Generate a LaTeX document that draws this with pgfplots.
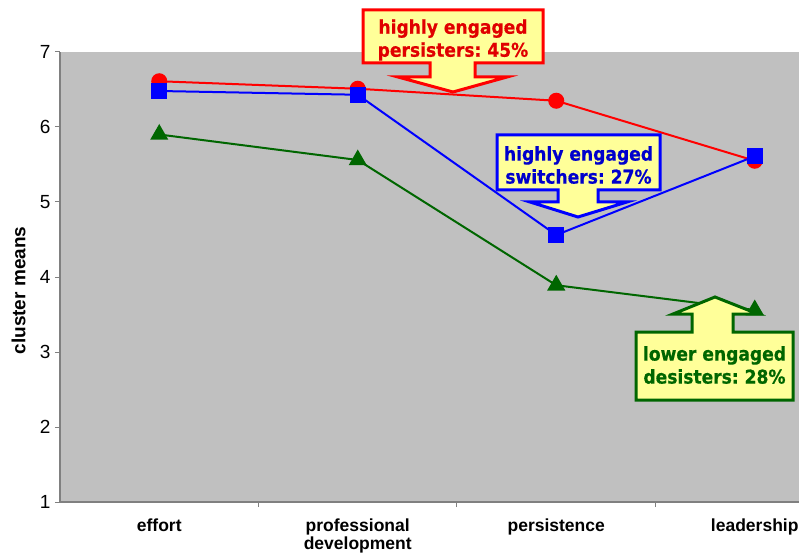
\documentclass[border=0pt]{standalone}
\usepackage{fontspec}
\setmainfont{Liberation Sans}
\newfontfamily\callfont[FakeStretch=0.9,FakeBold=0.6]{DejaVu Sans}
\usepackage{pgfplots}
\pgfplotsset{compat=1.18}
\definecolor{silver}{HTML}{C0C0C0}
\definecolor{axgray}{HTML}{808080}
\definecolor{cfill}{HTML}{FFFF99}
\definecolor{dgreen}{HTML}{006600}
\definecolor{cred}{HTML}{FF0000}
\definecolor{cblue}{HTML}{0000FF}
\begin{document}
\begin{tikzpicture}
\path[use as bounding box] (-60pt,-55pt) rectangle (739pt,502pt);
\begin{axis}[
  at={(0pt,0pt)}, anchor=south west,
  scale only axis, width=739pt, height=450pt,
  xmin=-0.5, xmax=3.223, ymin=1, ymax=7,
  clip=false,
  axis background/.style={fill=silver},
  axis x line*=bottom, axis y line*=left,
  axis line style={draw=axgray, line width=1.2pt},
  tick align=outside,
  ytick={1,2,3,4,5,6,7},
  yticklabel style={font=\fontsize{19}{22}\selectfont, xshift=-1pt},
  /pgf/number format/assume math mode=true,
  ytick style={draw=axgray, line width=1pt},
  major tick length=5pt,
  xtick={0.5,1.5,2.5},
  xticklabels={},
  xtick style={draw=axgray, line width=1pt},
  extra x ticks={0,1,2,3},
  extra x tick labels={effort,professional\\development,persistence,leadership},
  extra x tick style={major tick length=0pt, tick style={draw=none},
    xticklabel style={font=\bfseries\fontsize{17.5}{18.5}\selectfont, align=center, anchor=north, yshift=-13pt}},
  ylabel={\bfseries cluster means},
  ylabel style={font=\fontsize{19}{22}\selectfont, at={(axis description cs:-0.056,0.47)}, anchor=center, rotate=0},
]
\addplot[cred, line width=2pt, mark=*, mark size=7pt, mark options={fill=cred, draw=cred}]
  coordinates {(0,6.61) (1,6.51) (2,6.35) (3,5.55)};
\addplot[cblue, line width=2pt, mark=square*, mark size=7pt, mark options={fill=cblue, draw=cblue}]
  coordinates {(0,6.48) (1,6.43) (2,4.56) (3,5.61)};
\addplot[dgreen, line width=2pt, mark=triangle*, mark size=8.5pt, mark options={fill=dgreen, draw=dgreen}]
  coordinates {(0,5.90) (1,5.56) (2,3.89) (3,3.56)};
\end{axis}
\begin{scope}[x=1pt,y=-1pt,shift={(-60pt,502pt)}]
  \draw[cred, line width=3pt, fill=cfill, line join=miter]
    (363,10) -- (543,10) -- (543,63) -- (475,63) -- (475,77) -- (507,77) -- (453,92)
    -- (398,77) -- (430,77) -- (430,63) -- (363,63) -- cycle;
  \node[text=cred!88!black, align=center, font=\callfont\bfseries\fontsize{19}{23}\selectfont]
    at (453,40) {highly engaged\\persisters:\ 45\%};
  \draw[cblue, line width=3pt, fill=cfill, line join=miter]
    (497,135) -- (660,135) -- (660,190) -- (598,190) -- (598,202) -- (627,202) -- (578,217)
    -- (530,202) -- (558,202) -- (558,190) -- (497,190) -- cycle;
  \node[text=cblue!80!black, align=center, font=\callfont\bfseries\fontsize{19}{23}\selectfont]
    at (578.5,165) {highly engaged\\switchers:\ 27\%};
  \draw[dgreen, line width=3pt, fill=cfill, line join=miter]
    (636,400) -- (793,400) -- (793,332) -- (733,332) -- (733,314) -- (758,314) -- (715,297)
    -- (673,314) -- (692,314) -- (692,332) -- (636,332) -- cycle;
  \node[text=dgreen, align=center, font=\callfont\bfseries\fontsize{19}{23}\selectfont]
    at (714.5,365) {lower engaged\\desisters:\ 28\%};
\end{scope}
\end{tikzpicture}
\end{document}
